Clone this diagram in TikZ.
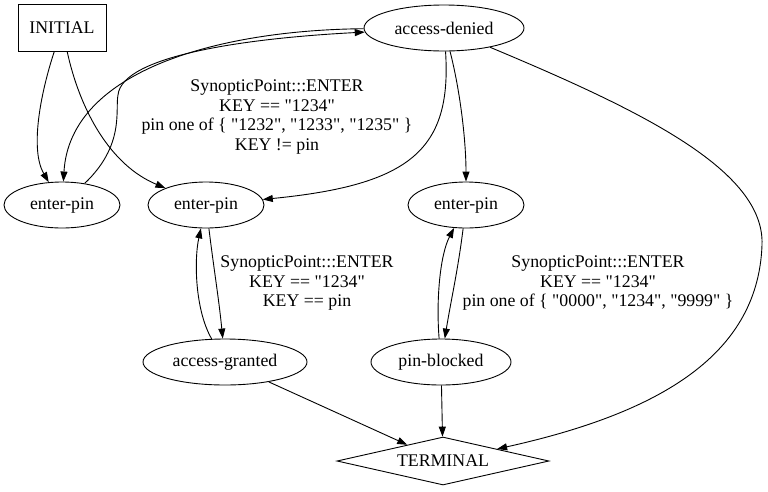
\documentclass[tikz,border=0pt]{standalone}
\usepackage{fontspec}
\setmainfont{Liberation Serif}[Ligatures=TeXOff]
\usetikzlibrary{shapes.geometric,arrows.meta}

\begin{document}
\begin{tikzpicture}[x=1pt, y=-1pt, line width=0.9pt]

  % ── Estilos ────────────────────────────────────────────────
  \tikzset{
    estado/.style   = {draw, ellipse, inner sep=0pt, minimum height=46pt,
                       font=\fontsize{17.8}{20}\selectfont},
    inicio/.style   = {draw, rectangle, inner sep=0pt, minimum width=88pt,
                       minimum height=47pt, font=\fontsize{17.8}{20}\selectfont},
    fim/.style      = {draw, diamond, aspect=4.4, inner sep=0pt,
                       minimum width=212pt, minimum height=48pt,
                       font=\fontsize{17.8}{20}\selectfont},
    rotulo/.style   = {align=center, inner sep=0pt,
                       font=\fontsize{17.8}{19.8}\selectfont},
    trans/.style    = {-{Triangle[length=10pt, width=7pt]}}
  }

  \useasboundingbox (0,0) rectangle (768,491);

  % =========================================================
  % 1. ESTADOS
  % =========================================================
  \node[inicio] (init) at (62,28) {INITIAL};
  \node[estado, minimum width=160pt] (denied) at (444,28) {access-denied};

  \node[estado, minimum width=116pt] (pinA) at (62,205)  {enter-pin};
  \node[estado, minimum width=116pt] (pinB) at (206,205) {enter-pin};
  \node[estado, minimum width=116pt] (pinC) at (466,205) {enter-pin};

  \node[estado, minimum width=164pt] (granted) at (225,362) {access-granted};
  \node[estado, minimum width=140pt] (blocked) at (441,362) {pin-blocked};

  \node[fim] (term) at (443,461) {TERMINAL};

  % =========================================================
  % 2. TRANSICOES
  % =========================================================

  % Saidas do estado inicial
  \draw[trans] (init) .. controls (40,95) and (30,150) .. (pinA);
  \draw[trans] (init) .. controls (80,110) and (110,165) .. (pinB);

  % Laco enter-pin <-> access-denied
  \draw[trans] (pinA) .. controls (125,145) and (115,110) .. (118,95)
                      .. controls (122,55) and (250,38) .. (denied);
  \draw[trans] (denied) .. controls (220,30) and (70,70) .. (pinA);

  % Saidas de access-denied
  \draw[trans] (denied) .. controls (452,150) and (410,185) .. (pinB);
  \draw[trans] (denied) .. controls (460,90) and (466,140) .. (pinC);
  \draw[trans] (denied) .. controls (640,110) and (765,170) .. (762,245)
                        .. controls (758,360) and (650,415) .. (term);

  % Pares de ida e volta
  \draw[trans] (pinB) .. controls (214,270) and (219,300) .. (granted);
  \draw[trans] (granted) .. controls (195,310) and (194,260) .. (pinB);
  \draw[trans] (pinC) .. controls (458,270) and (451,300) .. (blocked);
  \draw[trans] (blocked) .. controls (436,300) and (440,255) .. (pinC);

  % Chegadas em TERMINAL
  \draw[trans] (granted) -- (term);
  \draw[trans] (blocked) -- (term);

  % Rotulos das transicoes
  \node[rotulo] (lblA) at (277,117)
    {SynopticPoint:::ENTER\\KEY == "1234"\\pin one of \{ "1232", "1233", "1235" \}\\KEY != pin};
  \node[rotulo] (lblB) at (307,283)
    {SynopticPoint:::ENTER\\KEY == "1234"\\KEY == pin};
  \node[rotulo] (lblC) at (598,283)
    {SynopticPoint:::ENTER\\KEY == "1234"\\pin one of \{ "0000", "1234", "9999" \}};

\end{tikzpicture}
\end{document}
